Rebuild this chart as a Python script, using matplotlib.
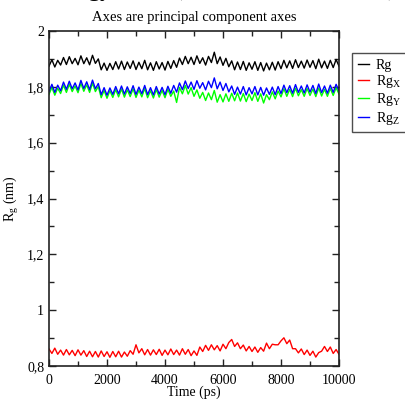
import numpy as np
import matplotlib
matplotlib.use("Agg")
import matplotlib.pyplot as plt
from matplotlib.ticker import MultipleLocator, FuncFormatter

plt.rcParams['font.family'] = ['Liberation Serif', 'DejaVu Serif']
plt.rcParams['mathtext.fontset'] = 'custom'
plt.rcParams['mathtext.rm'] = 'Liberation Serif'

title = "Radius of gyration (total and around axes)"
subtitle = "Axes are principal component axes"
xlabel = "Time (ps)"
ylabel = r"R$\mathregular{_g}$ (nm)"
labels = ["Rg", r"Rg$\mathregular{_X}$", r"Rg$\mathregular{_Y}$", r"Rg$\mathregular{_Z}$"]
colors = ["#000000", "#ff0000", "#00ff00", "#0000ff"]

rg = [1.874, 1.897, 1.871, 1.895, 1.878, 1.905, 1.880, 1.908, 1.883, 1.902,
      1.879, 1.911, 1.883, 1.904, 1.879, 1.913, 1.884, 1.900, 1.861, 1.885,
      1.859, 1.884, 1.862, 1.890, 1.864, 1.892, 1.862, 1.889, 1.866, 1.893,
      1.862, 1.888, 1.865, 1.895, 1.861, 1.886, 1.859, 1.890, 1.864, 1.887,
      1.860, 1.891, 1.866, 1.894, 1.870, 1.903, 1.880, 1.909, 1.883, 1.906,
      1.880, 1.911, 1.884, 1.904, 1.878, 1.909, 1.887, 1.924, 1.883, 1.907,
      1.877, 1.902, 1.872, 1.893, 1.861, 1.889, 1.862, 1.891, 1.859, 1.886,
      1.863, 1.890, 1.859, 1.887, 1.857, 1.885, 1.861, 1.888, 1.860, 1.890,
      1.865, 1.895, 1.868, 1.893, 1.866, 1.897, 1.869, 1.892, 1.867, 1.896,
      1.870, 1.894, 1.865, 1.899, 1.868, 1.892, 1.866, 1.895, 1.869, 1.898, 1.874]

rg_x = [0.861, 0.845, 0.864, 0.842, 0.857, 0.839, 0.859, 0.840, 0.856, 0.837,
        0.858, 0.839, 0.855, 0.834, 0.853, 0.833, 0.852, 0.832, 0.854, 0.834,
        0.851, 0.831, 0.852, 0.833, 0.853, 0.832, 0.850, 0.835, 0.855, 0.842,
        0.876, 0.847, 0.862, 0.840, 0.859, 0.839, 0.858, 0.841, 0.860, 0.838,
        0.857, 0.840, 0.861, 0.841, 0.857, 0.839, 0.862, 0.842, 0.859, 0.837,
        0.854, 0.838, 0.868, 0.852, 0.874, 0.856, 0.876, 0.858, 0.873, 0.854,
        0.878, 0.862, 0.884, 0.895, 0.870, 0.883, 0.862, 0.875, 0.854, 0.870,
        0.852, 0.868, 0.849, 0.866, 0.853, 0.882, 0.862, 0.878, 0.876, 0.876,
        0.890, 0.901, 0.880, 0.893, 0.862, 0.862, 0.847, 0.861, 0.841, 0.857,
        0.838, 0.853, 0.832, 0.848, 0.853, 0.870, 0.852, 0.868, 0.845, 0.859, 0.842]

rg_y = [1.773, 1.798, 1.770, 1.795, 1.776, 1.806, 1.780, 1.809, 1.783, 1.803,
        1.779, 1.812, 1.784, 1.807, 1.780, 1.813, 1.783, 1.801, 1.761, 1.787,
        1.759, 1.786, 1.762, 1.790, 1.764, 1.792, 1.763, 1.789, 1.765, 1.793,
        1.762, 1.788, 1.764, 1.794, 1.761, 1.786, 1.760, 1.790, 1.763, 1.787,
        1.761, 1.791, 1.766, 1.785, 1.744, 1.798, 1.775, 1.805, 1.774, 1.797,
        1.766, 1.789, 1.759, 1.780, 1.751, 1.778, 1.754, 1.787, 1.745, 1.772,
        1.746, 1.775, 1.748, 1.777, 1.750, 1.778, 1.749, 1.776, 1.747, 1.774,
        1.751, 1.779, 1.748, 1.775, 1.742, 1.772, 1.754, 1.782, 1.757, 1.785,
        1.764, 1.793, 1.766, 1.791, 1.765, 1.795, 1.768, 1.790, 1.766, 1.794,
        1.769, 1.792, 1.765, 1.796, 1.767, 1.791, 1.766, 1.794, 1.769, 1.797, 1.774]

rg_z = [1.783, 1.809, 1.780, 1.806, 1.786, 1.817, 1.791, 1.820, 1.793, 1.814,
        1.789, 1.823, 1.794, 1.818, 1.790, 1.824, 1.793, 1.812, 1.772, 1.797,
        1.770, 1.796, 1.773, 1.801, 1.775, 1.803, 1.774, 1.800, 1.776, 1.804,
        1.773, 1.799, 1.775, 1.805, 1.772, 1.797, 1.771, 1.801, 1.774, 1.798,
        1.772, 1.802, 1.777, 1.805, 1.781, 1.814, 1.790, 1.821, 1.794, 1.817,
        1.791, 1.822, 1.795, 1.815, 1.789, 1.820, 1.797, 1.832, 1.793, 1.817,
        1.787, 1.812, 1.782, 1.803, 1.773, 1.799, 1.774, 1.801, 1.771, 1.797,
        1.775, 1.801, 1.771, 1.798, 1.770, 1.796, 1.773, 1.799, 1.772, 1.801,
        1.776, 1.806, 1.779, 1.804, 1.777, 1.808, 1.780, 1.803, 1.778, 1.807,
        1.781, 1.805, 1.776, 1.810, 1.779, 1.803, 1.777, 1.806, 1.780, 1.809, 1.785]

series = [rg, rg_x, rg_y, rg_z]

fig = plt.figure(figsize=(4.05, 4.01), dpi=100)
ax = fig.add_axes([49/405, 1-366/401, 290/405, 335/401])

for vals, c, lab in zip(series, colors, labels):
    t = np.linspace(0, 10000, len(vals))
    ax.plot(t, vals, color=c, lw=1.0, label=lab)

ax.set_xlim(0, 10000)
ax.set_ylim(0.8, 2.0)
ax.xaxis.set_major_locator(MultipleLocator(2000))
ax.xaxis.set_minor_locator(MultipleLocator(1000))
ax.yaxis.set_major_locator(MultipleLocator(0.2))
ax.yaxis.set_minor_locator(MultipleLocator(0.1))

def fmt(v, pos):
    s = ("%.1f" % v).rstrip('0').rstrip('.')
    return s.replace('.', ',')
ax.yaxis.set_major_formatter(FuncFormatter(fmt))

ax.tick_params(which='both', direction='in', top=True, right=True, labelsize=10, width=1, color='#222222')
ax.tick_params(which='major', length=5)
ax.tick_params(which='minor', length=3.5)
ax.tick_params(axis='x', which='major', pad=6)
for s in ax.spines.values():
    s.set_linewidth(1.2)
    s.set_color('#222222')

ax.set_xlabel(xlabel, fontsize=10, labelpad=-1)
ax.set_ylabel(ylabel, fontsize=10, labelpad=4)

fig.text(194/405, 1-17/401, subtitle, ha='center', va='center', fontsize=10.5)
fig.text(194/405, 1+4/401, title, ha='center', va='baseline', fontsize=16, fontweight='bold')

leg = fig.legend(loc='upper left', bbox_to_anchor=(352/405, 1-53/401), frameon=True,
                 borderaxespad=0.0, fontsize=10, handlelength=0.8, handletextpad=0.5,
                 borderpad=0.4, labelspacing=0.1, fancybox=False, edgecolor='#222222')
leg.get_frame().set_linewidth(1.0)
for l in leg.get_lines():
    l.set_linewidth(1.0)

fig.savefig("out.png", dpi=100)
